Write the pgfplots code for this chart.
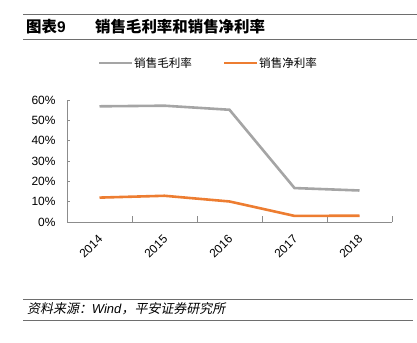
\documentclass[border=0pt]{standalone}
\usepackage{fontspec}
\setmainfont{Liberation Sans}
\newfontfamily\cjk{Noto Sans CJK SC}
\newfontfamily\cjkit[FakeSlant=0.2]{Noto Sans CJK SC}
\usepackage{pgfplots}
\pgfplotsset{compat=1.18}
\definecolor{grayline}{RGB}{165,165,165}
\definecolor{orangeline}{RGB}{237,125,49}
\definecolor{axisgray}{RGB}{140,140,140}
\definecolor{rulegray}{RGB}{110,110,110}
\begin{document}
\begin{tikzpicture}[x=1bp,y=1bp]
\path[use as bounding box] (0,0) rectangle (417,-343);
% title
\draw[rulegray, line width=1bp] (23,-14.5) -- (417,-14.5);
\draw[rulegray, line width=1bp] (23,-39) -- (417,-39);
\node[anchor=west, inner sep=0pt] at (26,-27) {\fontsize{15.5}{16}\selectfont\bfseries{\cjk 图表}9};
\node[anchor=west, inner sep=0pt] at (95,-27) {\fontsize{15.5}{16}\selectfont{\cjk\bfseries 销售毛利率和销售净利率}};
% legend
\draw[grayline, line width=2.6bp] (99,-63) -- (132,-63);
\node[anchor=west, inner sep=0pt] at (134,-63) {\fontsize{11.6}{12}\selectfont\cjk 销售毛利率};
\draw[orangeline, line width=2.6bp] (224,-63) -- (257,-63);
\node[anchor=west, inner sep=0pt] at (259,-63) {\fontsize{11.6}{12}\selectfont\cjk 销售净利率};
% source
\draw[rulegray, line width=0.8bp] (23,-299) -- (413,-299);
\draw[rulegray, line width=0.8bp] (23,-320) -- (413,-320);
\node[anchor=west, inner sep=0pt] at (27,-309) {\fontsize{13}{14}\selectfont{\cjkit 资料来源：}\textit{Wind}{\cjkit ，平安证券研究所}};
\begin{axis}[
  at={(67bp,-222bp)}, anchor=south west,
  scale only axis, width=325bp, height=122bp,
  clip=false,
  xmin=-0.5, xmax=4.5, ymin=0, ymax=60,
  axis x line*=bottom, axis y line*=left,
  axis line style={axisgray, line width=0.8bp},
  xtick={0,1,2,3,4},
  xticklabels={2014,2015,2016,2017,2018},
  major x tick style={draw=none},
  minor xtick={-0.5,0.5,1.5,2.5,3.5,4.5},
  minor x tick style={axisgray, line width=0.6bp},
  minor tick length=6bp,
  ytick={0,10,20,30,40,50,60},
  yticklabel={\pgfmathprintnumber{\tick}\%},
  y tick style={axisgray, line width=0.6bp},
  major tick length=3bp,
  tick align=inside,
  /pgf/number format/assume math mode=true,
  ticklabel style={font=\fontsize{12}{12}\selectfont},
  yticklabel style={anchor=east, xshift=-8bp},
  xticklabel style={anchor=east, inner sep=0pt, xshift=1bp, yshift=-15bp, rotate=45},
]
\addplot[grayline, line width=2.6bp] coordinates {(0,56.9) (1,57.2) (2,55.2) (3,16.7) (4,15.5)};
\addplot[orangeline, line width=2.6bp] coordinates {(0,12.0) (1,12.9) (2,10.1) (3,3.0) (4,3.1)};
\end{axis}
\end{tikzpicture}
\end{document}
